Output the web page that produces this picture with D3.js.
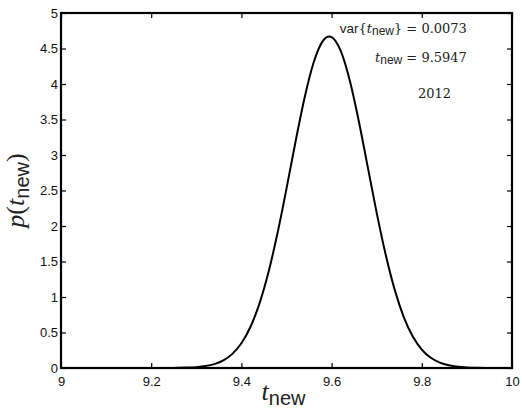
<!DOCTYPE html>
<html>
<head>
<meta charset="utf-8">
<script src="https://cdn.jsdelivr.net/npm/d3@7"></script>
<style>
  body { margin: 0; background: #fff; }
  .axis text { font-family: "Liberation Sans", Arial, sans-serif; font-size: 13px; fill: #111; }
  .axis path, .axis line { stroke: #000; }
  .serif { font-family: "Liberation Serif", "DejaVu Serif", serif; }
  .note { font-family: "DejaVu Serif", "Liberation Serif", serif; }
  .sans { font-family: "Liberation Sans", Arial, sans-serif; }
</style>
</head>
<body>
<div id="chart"></div>
<script>
(function() {
  // curve
  var tValues = [9.0, 9.2, 9.24, 9.26, 9.28, 9.30, 9.32, 9.34, 9.36, 9.38, 9.40, 9.42, 9.44, 9.46, 9.48,
                 9.50, 9.52, 9.54, 9.56, 9.58, 9.5947, 9.60, 9.62, 9.64, 9.66, 9.68, 9.70, 9.72, 9.74,
                 9.76, 9.78, 9.80, 9.82, 9.84, 9.86, 9.88, 9.90, 9.92, 9.94, 9.97, 10.0];
  var pValues = [0, 0.0001, 0.0008, 0.0022, 0.0053, 0.0122, 0.0266, 0.0549, 0.107, 0.199, 0.348, 0.577, 0.906, 1.347, 1.897,
                 2.526, 3.187, 3.804, 4.299, 4.600, 4.669, 4.660, 4.469, 4.057, 3.487, 2.837, 2.185, 1.594, 1.100,
                 0.718, 0.444, 0.260, 0.144, 0.0758, 0.0376, 0.0177, 0.0079, 0.0033, 0.0013, 0.0003, 0];

  var xTicks = [9, 9.2, 9.4, 9.6, 9.8, 10];
  var yTicks = [0, 0.5, 1, 1.5, 2, 2.5, 3, 3.5, 4, 4.5, 5];
  var varLabel = "0.0073", meanLabel = "9.5947", yearLabel = "2012";

  var margin = {top: 13, right: 10, bottom: 41, left: 61},
      width = 522 - margin.left - margin.right,
      height = 409 - margin.top - margin.bottom;

  var xPositionScale = d3.scaleLinear().domain([9, 10]).range([0, width]);
  var yPositionScale = d3.scaleLinear().domain([0, 5]).range([height, 0]);

  var svg = d3.select("#chart")
        .append("svg")
        .attr("width", 522)
        .attr("height", 409)
        .append("g")
        .attr("transform", "translate(" + margin.left + "," + margin.top + ")");

  var points = tValues.map(function(t, i) { return [t, pValues[i]]; });

  var line = d3.line()
      .x(function(d) { return xPositionScale(d[0]); })
      .y(function(d) { return yPositionScale(d[1]); })
      .curve(d3.curveMonotoneX);

  svg.append("path")
      .datum(points)
      .attr("d", line)
      .attr("fill", "none")
      .attr("stroke", "#000")
      .attr("stroke-width", 2);

  // axes, ticks pointing inward, box all round
  var fmt = function(d) { return String(d); };

  svg.append("g").attr("class", "x axis")
      .attr("transform", "translate(0," + height + ")")
      .call(d3.axisBottom(xPositionScale).tickValues(xTicks).tickFormat(fmt).tickSizeInner(-5).tickSizeOuter(0).tickPadding(9));
  svg.append("g").attr("class", "x axis")
      .call(d3.axisTop(xPositionScale).tickValues(xTicks).tickFormat("").tickSizeInner(-5).tickSizeOuter(0));
  svg.append("g").attr("class", "y axis")
      .call(d3.axisLeft(yPositionScale).tickValues(yTicks).tickFormat(fmt).tickSizeInner(-5).tickSizeOuter(0).tickPadding(3));
  svg.append("g").attr("class", "y axis")
      .attr("transform", "translate(" + width + ",0)")
      .call(d3.axisRight(yPositionScale).tickValues(yTicks).tickFormat("").tickSizeInner(-5).tickSizeOuter(0));

  svg.selectAll(".axis .domain").remove();
  svg.selectAll(".axis line").attr("stroke-width", 1.2);

  svg.append("rect")
      .attr("width", width)
      .attr("height", height)
      .attr("fill", "none")
      .attr("stroke", "#000")
      .attr("stroke-width", 2.2);

  // annotations
  var a1 = svg.append("text")
      .attr("x", xPositionScale(9.9))
      .attr("y", yPositionScale(4.72))
      .attr("text-anchor", "end")
      .attr("font-size", 13)
      .attr("fill", "#222");
  a1.append("tspan").attr("class", "sans").attr("font-size", 13.5).text("var");
  a1.append("tspan").attr("class", "note").text("{");
  a1.append("tspan").attr("class", "note").attr("font-style", "italic").text("t");
  a1.append("tspan").attr("class", "sans").attr("font-size", 12).attr("dy", 2).text("new");
  a1.append("tspan").attr("class", "note").attr("dy", -2).text("} = " + varLabel);

  var a2 = svg.append("text")
      .attr("x", xPositionScale(9.9))
      .attr("y", yPositionScale(4.31))
      .attr("text-anchor", "end")
      .attr("font-size", 13)
      .attr("fill", "#222");
  a2.append("tspan").attr("class", "note").attr("font-style", "italic").text("t");
  a2.append("tspan").attr("class", "sans").attr("font-size", 12).attr("dy", 2).text("new");
  a2.append("tspan").attr("class", "note").attr("dy", -2).text(" = " + meanLabel);

  svg.append("text")
      .attr("class", "note")
      .attr("x", xPositionScale(9.828))
      .attr("y", yPositionScale(3.8))
      .attr("text-anchor", "middle")
      .attr("font-size", 13)
      .attr("fill", "#222")
      .text(yearLabel);

  // x label
  var xl = svg.append("text")
      .attr("x", width / 2 - 3)
      .attr("y", height + 32)
      .attr("text-anchor", "middle")
      .attr("font-size", 26)
      .attr("fill", "#222");
  xl.append("tspan").attr("class", "serif").attr("font-style", "italic").text("t");
  xl.append("tspan").attr("class", "sans").attr("font-size", 20).attr("dy", 5).text("new");

  // y label
  var yl = svg.append("text")
      .attr("transform", "translate(" + (-37) + "," + (height / 2) + ") rotate(-90)")
      .attr("text-anchor", "middle")
      .attr("font-size", 26)
      .attr("fill", "#222");
  yl.append("tspan").attr("class", "serif").attr("font-style", "italic").text("p");
  yl.append("tspan").attr("class", "serif").text("(");
  yl.append("tspan").attr("class", "serif").attr("font-style", "italic").text("t");
  yl.append("tspan").attr("class", "sans").attr("font-size", 20).attr("dy", 5).text("new");
  yl.append("tspan").attr("class", "serif").attr("dy", -5).text(")");
})();
</script>
</body>
</html>
